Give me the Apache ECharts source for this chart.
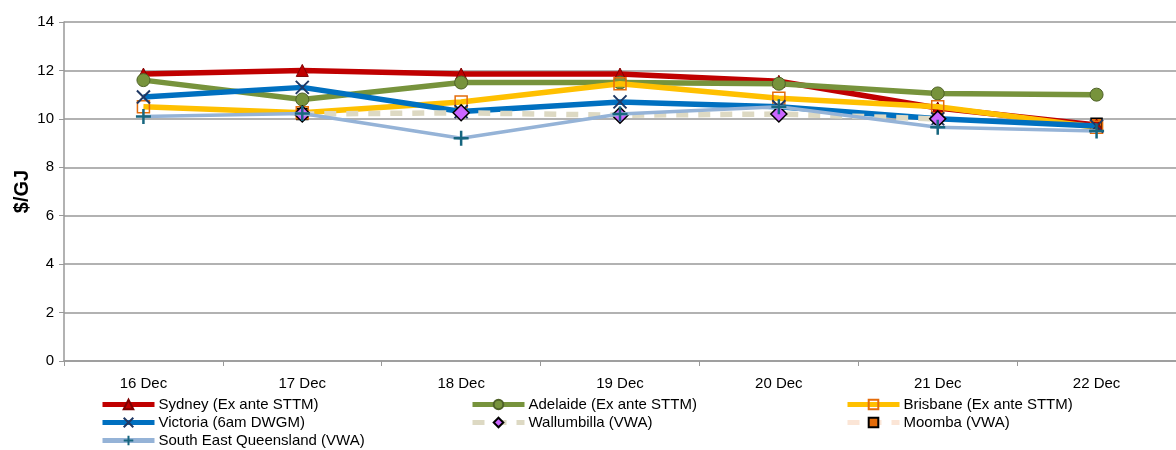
<!DOCTYPE html>
<html>
<head>
<meta charset="utf-8">
<script src="https://cdn.jsdelivr.net/npm/echarts@6/dist/echarts.min.js"></script>
<style>html,body{margin:0;padding:0;background:#fff}#c{width:1176px;height:450px}</style>
</head>
<body>
<div id="c"></div>
<script>
var categories = ['16 Dec','17 Dec','18 Dec','19 Dec','20 Dec','21 Dec','22 Dec'];
var sydney      = [11.85, 12.0, 11.85, 11.85, 11.55, 10.45, 9.75];
var adelaide    = [11.6, 10.8, 11.5, 11.5, 11.45, 11.05, 11.0];
var brisbane    = [10.5, 10.25, 10.7, 11.45, 10.85, 10.5, 9.65];
var victoria    = [10.9, 11.3, 10.3, 10.7, 10.5, 10.0, 9.7];
var wallumbilla = [null, 10.2, 10.25, 10.15, 10.2, 10.0, null];
var moomba      = [null, 10.2, null, null, null, null, 9.8];
var seq         = [10.1, 10.22, 9.2, 10.2, 10.5, 9.65, 9.5];
var yTicks      = [0, 2, 4, 6, 8, 10, 12, 14];

var xPath = 'path://M0,0 L10,10 M10,0 L0,10';
var plusPath = 'path://M5,0 L5,10 M0,5 L10,5';
var FONT = 'Liberation Sans, Arial, sans-serif';

var seriesDefs = [
  {name:'Sydney (Ex ante STTM)', data:sydney, z:3, line:{color:'#c00000',width:5.5}, symbol:'triangle', size:12, item:{color:'#c00000',borderColor:'#7f0000',borderWidth:1}},
  {name:'Adelaide (Ex ante STTM)', data:adelaide, z:4, line:{color:'#77933c',width:5.5}, symbol:'circle', size:13, item:{color:'#77933c',borderColor:'#4f6228',borderWidth:1}},
  {name:'Brisbane (Ex ante STTM)', data:brisbane, z:5, line:{color:'#ffc000',width:5.5}, symbol:'rect', size:12, item:{color:'rgba(255,255,255,0)',borderColor:'#e46c0a',borderWidth:1.5}},
  {name:'Victoria (6am DWGM)', data:victoria, z:6, line:{color:'#0070c0',width:5.5}, symbol:xPath, size:13, item:{color:'none',borderColor:'#1f3864',borderWidth:2}},
  {name:'Wallumbilla (VWA)', data:wallumbilla, z:7, line:{color:'#ddd9c3',width:5.5,type:[12,10]}, symbol:'diamond', size:16, item:{color:'#cc66ff',borderColor:'#000',borderWidth:1.5}},
  {name:'Moomba (VWA)', data:moomba, z:2, line:{color:'#fbe5d6',width:5.5,type:[12,10]}, symbol:'rect', size:11, item:{color:'#e46c0a',borderColor:'#000',borderWidth:1.5}},
  {name:'South East Queensland (VWA)', data:seq, z:8, line:{color:'#95b3d7',width:3.5}, symbol:plusPath, size:15, item:{color:'none',borderColor:'#17667f',borderWidth:2.5}}
];

var series = seriesDefs.map(function(d){
  return {
    name:d.name, type:'line', data:d.data, symbol:d.symbol, symbolSize:d.size, z:d.z,
    showAllSymbol:true, connectNulls:false, smooth:false,
    lineStyle:d.line, itemStyle:d.item, animation:false,
    emphasis:{disabled:true}
  };
});

var legendPos = [
  [100,397],[470,397],[845,397],
  [100,415],[470,415],[845,415],
  [100,433]
];
var legends = seriesDefs.map(function(d,i){
  return {
    data:[d.name], left:legendPos[i][0], top:legendPos[i][1], orient:'horizontal',
    itemWidth:52, itemHeight:12, itemGap:4, padding:0, selectedMode:false,
    lineStyle:{width:5},
    textStyle:{fontFamily:FONT, fontSize:15, color:'#000', padding:[0,0,0,-1]}
  };
});

var chart = echarts.init(document.getElementById('c'), null, {renderer:'canvas'});
chart.setOption({
  backgroundColor:'#fff',
  animation:false,
  grid:{left:64, top:22, width:1124, height:339, containLabel:false},
  legend:legends,
  xAxis:{
    type:'category', data:categories, boundaryGap:true,
    axisLine:{lineStyle:{color:'#999',width:1.5}},
    axisTick:{show:true, length:5, inside:false, lineStyle:{color:'#999'}},
    axisLabel:{fontFamily:FONT, fontSize:15, color:'#000', margin:15},
    splitLine:{show:false}
  },
  yAxis:{
    type:'value', min:yTicks[0], max:yTicks[yTicks.length-1], interval:2,
    name:'$/GJ', nameLocation:'middle', nameGap:32, nameRotate:90, nameMoveOverlap:false,
    nameTextStyle:{fontFamily:FONT, fontSize:20, fontWeight:'bold', color:'#000'},
    axisLine:{show:true, lineStyle:{color:'#999',width:1.5}},
    axisTick:{show:true, length:5, lineStyle:{color:'#999'}},
    axisLabel:{fontFamily:FONT, fontSize:15, color:'#000', margin:10},
    splitLine:{show:true, lineStyle:{color:'#999',width:1.5}}
  },
  series:series
});
</script>
</body>
</html>
